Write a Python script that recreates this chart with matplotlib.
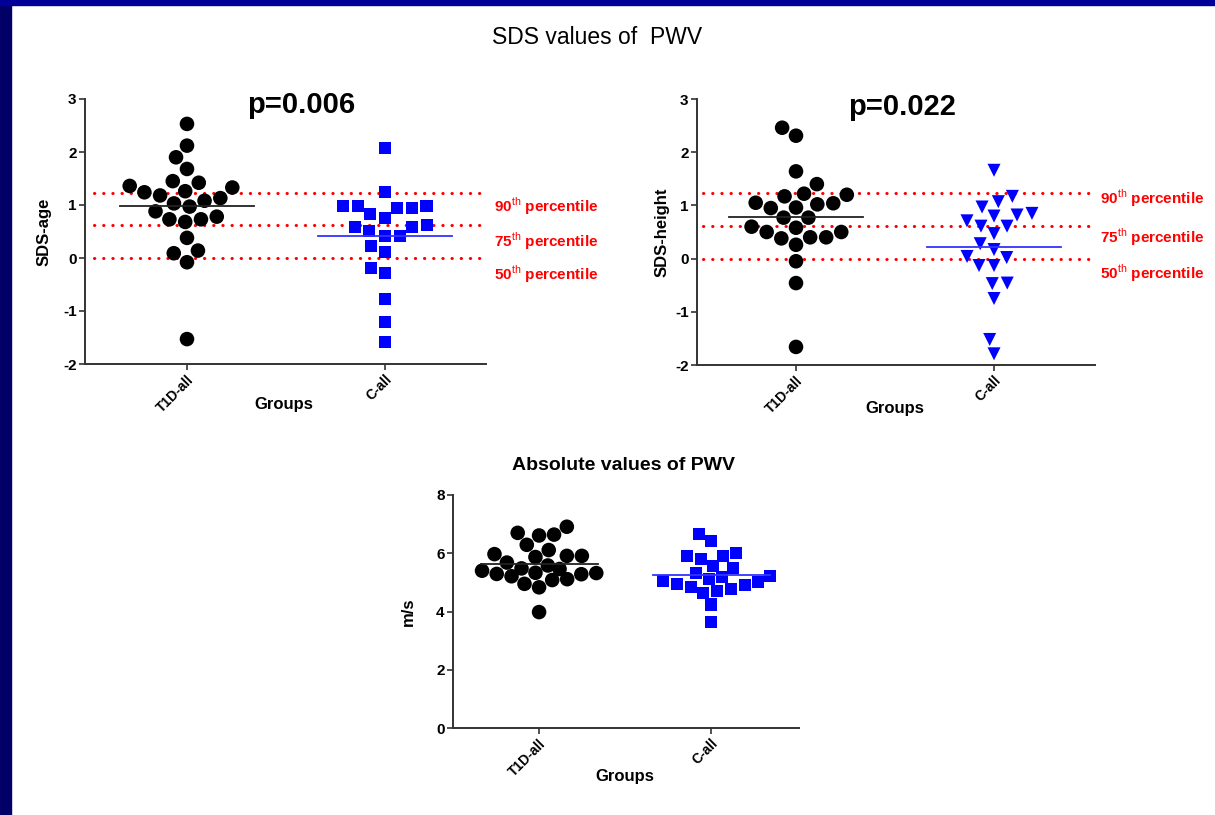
import numpy as np
import matplotlib
matplotlib.use("Agg")
import matplotlib.pyplot as plt
from matplotlib.patches import Rectangle

plt.rcParams['font.family'] = ['Liberation Sans', 'DejaVu Sans']
plt.rcParams['mathtext.fontset'] = 'custom'
plt.rcParams['mathtext.rm'] = 'Liberation Sans'
plt.rcParams['mathtext.bf'] = 'Liberation Sans:bold'
plt.rcParams['axes.unicode_minus'] = False

# data
groups = ["T1D-all", "C-all"]
sds_age_t1d = [2.53, 2.12, 1.90, 1.68, 1.45, 1.36, 1.33, 1.42, 1.24, 1.26, 1.13, 1.18, 1.03,
               1.08, 0.97, 0.88, 0.78, 0.73, 0.68, 0.73, 0.38, 0.09, 0.14, -0.08, -1.53]
sds_age_c = [2.07, 1.24, 0.99, 0.98, 0.94, 0.76, 0.83, 0.95, 0.98, 0.62, 0.58, 0.41, 0.41,
             0.51, 0.59, 0.23, 0.11, -0.18, -0.28, -0.78, -1.21, -1.59]
sds_height_t1d = [2.46, 2.31, 1.64, 1.40, 1.22, 1.17, 1.20, 1.04, 1.05, 1.02, 0.96, 0.95, 0.77,
                  0.77, 0.58, 0.60, 0.50, 0.50, 0.40, 0.38, 0.40, 0.26, -0.05, -0.46, -1.66]
sds_height_c = [1.66, 1.17, 1.07, 0.97, 0.82, 0.80, 0.85, 0.71, 0.61, 0.61, 0.47, 0.28, 0.17,
                0.02, 0.04, -0.13, -0.13, -0.47, -0.46, -0.75, -1.52, -1.79]
pwv_t1d = [6.91, 6.70, 6.61, 6.64, 6.29, 6.11, 5.97, 5.91, 5.87, 5.91, 5.68, 5.58, 5.48,
           5.40, 5.46, 5.32, 5.28, 5.29, 5.33, 5.11, 5.21, 5.08, 4.95, 4.83, 3.98]
pwv_c = [6.67, 6.41, 6.02, 5.90, 5.81, 5.90, 5.56, 5.50, 4.24, 3.63, 5.21, 5.10, 5.00,
         4.90, 4.78, 4.64, 4.72, 4.85, 4.95, 5.05, 5.20, 5.31]
pct_levels = [1.23, 0.62, 0.0]
pct_names = ["90", "75", "50"]
p_values = ["p=0.006", "p=0.022"]

W, H = 1215, 815
fig = plt.figure(figsize=(W / 100, H / 100), dpi=100)
fig.patch.set_facecolor("white")
fig.patches.append(Rectangle((0, 0), 11 / W, 1, transform=fig.transFigure,
                             color="#000066", zorder=0))
fig.patches.append(Rectangle((0, 1 - 5 / H), 1, 5 / H, transform=fig.transFigure,
                             color="#000099", zorder=0))


def px_axes(left, top, right, bottom):
    return fig.add_axes([left / W, 1 - bottom / H, (right - left) / W, (bottom - top) / H])


def ftext(x, y, s, **kw):
    return fig.text(x / W, 1 - y / H, s, **kw)


def swarm(ax, vals, diam, half=0.34):
    # simple beeswarm in pixel space, points kept within +-half of the category
    p0 = ax.transData.transform((0, 0))
    p1 = ax.transData.transform((1, 1))
    sx, sy = p1 - p0
    ys = np.asarray(vals, dtype=float) * sy
    lim = half * sx
    placed = []
    offs = np.zeros(len(ys))
    for i in np.argsort(ys, kind="stable"):
        y = ys[i]
        cands = [0.0]
        for px, py in placed:
            dy = y - py
            if abs(dy) < diam:
                dx = np.sqrt(diam ** 2 - dy ** 2)
                cands += [px - dx, px + dx]
        best = None
        for c in sorted(cands, key=abs):
            if abs(c) > lim + 1e-6:
                continue
            if all((c - px) ** 2 + (y - py) ** 2 >= diam ** 2 - 1e-3 for px, py in placed):
                best = c
                break
        if best is None:
            grid = np.linspace(-lim, lim, 41)
            best = max(grid, key=lambda c: min((c - px) ** 2 + (y - py) ** 2 for px, py in placed))
        placed.append((best, y))
        offs[i] = best / sx
    return offs


def style_axes(ax, ylim, yticks, ylabel, label_x):
    ax.set_ylim(*ylim)
    ax.set_yticks(yticks)
    ax.set_xticks([0, 1])
    ax.set_xticklabels(groups, rotation=45, ha="right", va="top", rotation_mode="anchor",
                       fontsize=10, fontweight="bold")
    for lab in ax.get_yticklabels():
        lab.set_fontweight("bold")
        lab.set_fontsize(11)
    for s in ["top", "right"]:
        ax.spines[s].set_visible(False)
    for s in ["left", "bottom"]:
        ax.spines[s].set_linewidth(1.4)
        ax.spines[s].set_color("#333333")
    ax.tick_params(length=4, width=1.2, color="#333333", pad=2)
    ax.set_ylabel(ylabel, fontsize=12, fontweight="bold")
    l, b, w, h = ax.get_position().bounds
    ax.yaxis.set_label_coords((label_x / W - l) / w, 0.5)
    ax.patch.set_alpha(0)


def draw_group(ax, x0, vals, marker, color, size, diam, line_color):
    offs = swarm(ax, vals, diam)
    ax.scatter(x0 + offs, vals, marker=marker, s=size, color=color, edgecolors="none",
               zorder=3, clip_on=False)
    m = np.mean(vals)
    ax.plot([x0 - 0.34, x0 + 0.34], [m, m], color=line_color, lw=1.3, zorder=4)


panels = [
    (px_axes(85, 99, 486, 364), sds_age_t1d, sds_age_c, "SDS-age", 52, "s", 75, (-0.515, 1.51)),
    (px_axes(697, 99, 1095, 365), sds_height_t1d, sds_height_c, "SDS-height", 670, "v", 88, (-0.5, 1.51)),
]
for ax, t1d, ctrl, ylab, lx, cmark, csize, xl in panels:
    ax.set_xlim(*xl)
    style_axes(ax, (-2, 3), range(-2, 4), ylab, lx)
    for lev in pct_levels:
        ax.plot([-0.47, 1.48], [lev, lev], color="red", lw=2.2, ls=(0, (0.1, 2.9)),
                dash_capstyle="round", zorder=1)
    draw_group(ax, 0, t1d, "o", "black", 110, 16, "#222222")
    draw_group(ax, 1, ctrl, cmark, "#0000FF", csize, 15, "#3333FF")

ax3 = px_axes(453, 495, 799, 728)
ax3.set_xlim(-0.5, 1.51)
style_axes(ax3, (0, 8), [0, 2, 4, 6, 8], "m/s", 416)
draw_group(ax3, 0, pwv_t1d, "o", "black", 110, 15, "#222222")
draw_group(ax3, 1, pwv_c, "s", "#0000FF", 75, 14, "#3333FF")

# titles and annotations
ftext(597, 37, "SDS values of  PWV", fontsize=16.5, ha="center", va="center")
ftext(301, 105, p_values[0], fontsize=21, fontweight="bold", ha="center", va="center")
ftext(902, 107, p_values[1], fontsize=21, fontweight="bold", ha="center", va="center")
ftext(624, 465, "Absolute values of PWV", fontsize=14, fontweight="bold", ha="center", va="center")
for x, y in [(284, 405), (895, 409), (625, 777)]:
    ftext(x, y, "Groups", fontsize=12, fontweight="bold", ha="center", va="center")

for x, ys in [(494, [206, 241, 274]), (1100, [198, 237, 273])]:
    for name, y in zip(pct_names, ys):
        ftext(x, y, name + r"$^{\rm th}$ percentile", fontsize=11, fontweight="bold",
              color="red", ha="left", va="center")

fig.savefig("out.png", dpi=100)
